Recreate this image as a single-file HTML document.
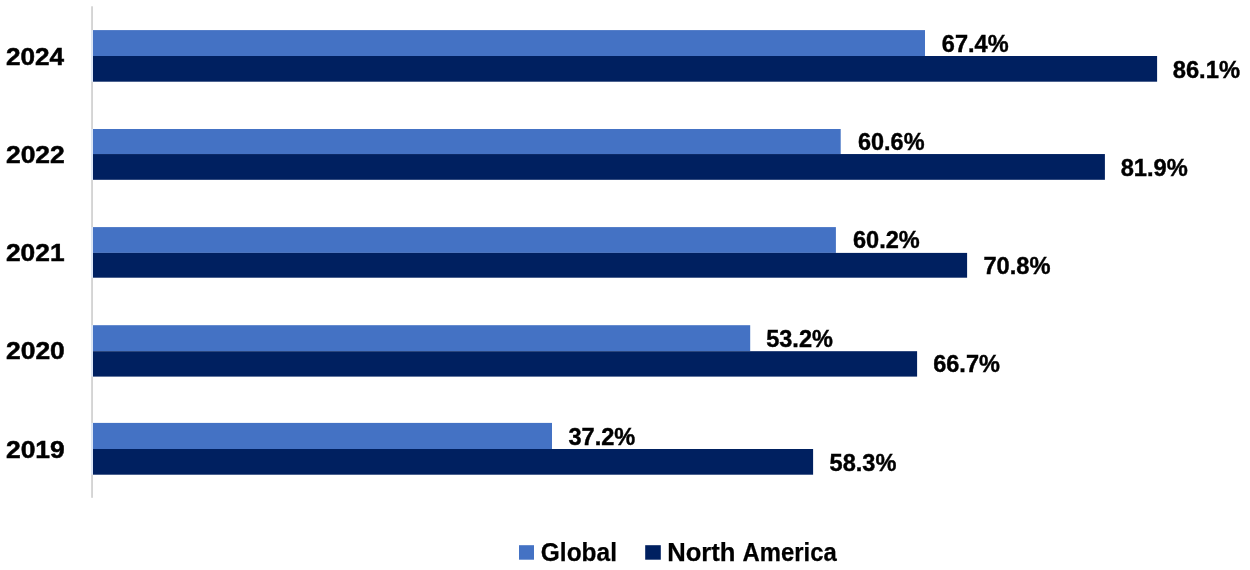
<!DOCTYPE html>
<html lang="en"><head><meta charset="utf-8"><title>Chart</title>
<style>html,body{margin:0;padding:0;background:#fff}body{width:1250px;height:570px;overflow:hidden}svg{display:block}text{font-family:"Liberation Sans",Arial,sans-serif;font-weight:bold;fill:#000}</style></head><body>
<svg width="1250" height="570" viewBox="0 0 1250 570">
<rect x="0" y="0" width="1250" height="570" fill="#fff"/>
<rect x="91.1" y="6.3" width="1.9" height="491.5" fill="#D4D4D4"/>
<rect x="91.1" y="30.1" width="1.9" height="51.60" fill="#DCE6F6"/>
<rect x="91.1" y="129.0" width="1.9" height="50.80" fill="#DCE6F6"/>
<rect x="91.1" y="227.1" width="1.9" height="50.60" fill="#DCE6F6"/>
<rect x="91.1" y="325.2" width="1.9" height="51.40" fill="#DCE6F6"/>
<rect x="91.1" y="422.9" width="1.9" height="51.80" fill="#DCE6F6"/>
<rect x="93" y="30.1" width="832.0" height="25.90" fill="#4472C4"/>
<rect x="93" y="56.0" width="1064.1" height="25.70" fill="#002060"/>
<rect x="93" y="129.0" width="747.7" height="25.05" fill="#4472C4"/>
<rect x="93" y="154.05" width="1011.9" height="25.75" fill="#002060"/>
<rect x="93" y="227.1" width="742.9" height="25.80" fill="#4472C4"/>
<rect x="93" y="252.9" width="874.1" height="24.80" fill="#002060"/>
<rect x="93" y="325.2" width="657.2" height="26.00" fill="#4472C4"/>
<rect x="93" y="351.2" width="824.1" height="25.40" fill="#002060"/>
<rect x="93" y="422.9" width="459.0" height="26.10" fill="#4472C4"/>
<rect x="93" y="449.0" width="720.1" height="25.70" fill="#002060"/>
<rect x="519" y="545.2" width="15" height="14.5" fill="#4472C4"/>
<rect x="645.2" y="545.2" width="15.6" height="14.5" fill="#002060"/>
<text x="5.97" y="64.50" font-size="24.8" stroke="#000" stroke-width="0.5" textLength="58.11" lengthAdjust="spacingAndGlyphs">2024</text>
<text x="5.97" y="162.60" font-size="24.8" stroke="#000" stroke-width="0.5" textLength="58.81" lengthAdjust="spacingAndGlyphs">2022</text>
<text x="5.97" y="260.50" font-size="24.8" stroke="#000" stroke-width="0.5" textLength="58.56" lengthAdjust="spacingAndGlyphs">2021</text>
<text x="5.97" y="358.60" font-size="24.8" stroke="#000" stroke-width="0.5" textLength="58.86" lengthAdjust="spacingAndGlyphs">2020</text>
<text x="5.97" y="457.80" font-size="24.8" stroke="#000" stroke-width="0.5" textLength="58.81" lengthAdjust="spacingAndGlyphs">2019</text>
<text x="941.86" y="51.50" font-size="23" stroke="#000" stroke-width="0.4" textLength="66.68" lengthAdjust="spacingAndGlyphs">67.4%</text>
<text x="1172.71" y="77.50" font-size="23" stroke="#000" stroke-width="0.4" textLength="67.28" lengthAdjust="spacingAndGlyphs">86.1%</text>
<text x="858.01" y="149.50" font-size="23" stroke="#000" stroke-width="0.4" textLength="66.48" lengthAdjust="spacingAndGlyphs">60.6%</text>
<text x="1120.71" y="175.50" font-size="23" stroke="#000" stroke-width="0.4" textLength="67.13" lengthAdjust="spacingAndGlyphs">81.9%</text>
<text x="853.01" y="247.60" font-size="23" stroke="#000" stroke-width="0.4" textLength="66.73" lengthAdjust="spacingAndGlyphs">60.2%</text>
<text x="983.46" y="273.50" font-size="23" stroke="#000" stroke-width="0.4" textLength="67.08" lengthAdjust="spacingAndGlyphs">70.8%</text>
<text x="766.21" y="346.50" font-size="23" stroke="#000" stroke-width="0.4" textLength="66.68" lengthAdjust="spacingAndGlyphs">53.2%</text>
<text x="933.21" y="371.60" font-size="23" stroke="#000" stroke-width="0.4" textLength="66.68" lengthAdjust="spacingAndGlyphs">66.7%</text>
<text x="568.46" y="444.50" font-size="23" stroke="#000" stroke-width="0.4" textLength="66.88" lengthAdjust="spacingAndGlyphs">37.2%</text>
<text x="829.56" y="470.50" font-size="23" stroke="#000" stroke-width="0.4" textLength="66.78" lengthAdjust="spacingAndGlyphs">58.3%</text>
<text x="540.80" y="560.60" font-size="25" stroke="#000" stroke-width="0.25" textLength="76.15" lengthAdjust="spacingAndGlyphs">Global</text>
<text y="560.60" font-size="25" stroke="#000" stroke-width="0.25"><tspan x="667.20" textLength="68.25" lengthAdjust="spacingAndGlyphs">North</tspan> <tspan x="742.60" textLength="94.10" lengthAdjust="spacingAndGlyphs">America</tspan></text>
</svg></body></html>
